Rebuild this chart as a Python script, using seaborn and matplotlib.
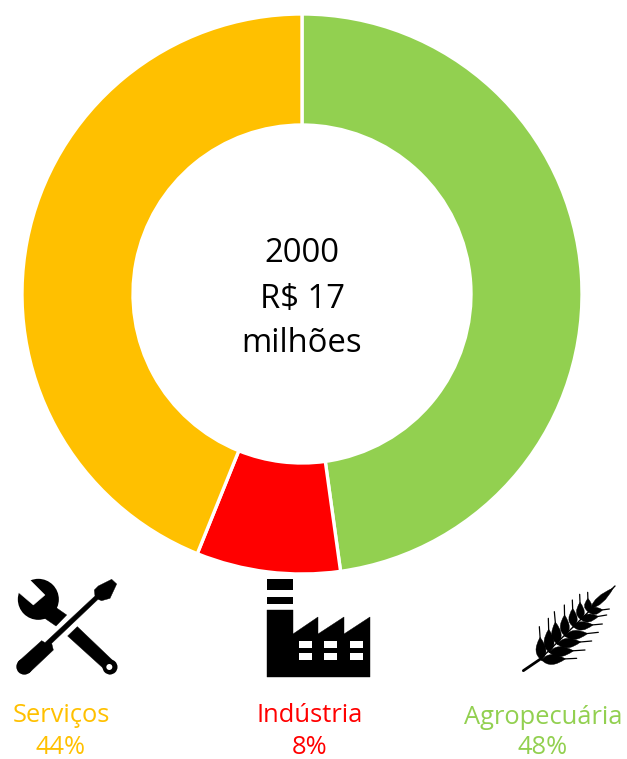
import matplotlib
matplotlib.use("Agg")
import matplotlib.pyplot as plt
import seaborn as sns
from matplotlib.patches import Polygon, Rectangle, Circle, PathPatch
from matplotlib.path import Path
from matplotlib.lines import Line2D

categories = ["Agropecuária", "Indústria", "Serviços"]
shares = [47.8, 8.3, 43.9]
share_labels = ["48%", "8%", "44%"]
center_lines = ["2000", "R$ 17", "milhões"]
hex_colors = ["#92D050", "#FF0000", "#FFC000"]

W, H = 627, 759
sns.set_theme(style="white")
plt.rcParams["font.family"] = ["Open Sans", "DejaVu Sans"]
palette = sns.color_palette(hex_colors)

fig = plt.figure(figsize=(W / 100, H / 100), dpi=100, facecolor="white")

# donut
CX, CY, R, r = 302, 294, 280, 169
ax = fig.add_axes([(CX - R) / W, 1 - (CY + R) / H, 2 * R / W, 2 * R / H])
ax.pie(shares, colors=palette, startangle=90, counterclock=False, radius=1,
       wedgeprops=dict(width=(R - r) / R, edgecolor="white", linewidth=2.4))
ax.set_xlim(-1, 1)
ax.set_ylim(-1, 1)
ax.set_axis_off()

# overlay in pixel coordinates
ov = fig.add_axes([0, 0, 1, 1])
ov.set_xlim(0, W)
ov.set_ylim(H, 0)
ov.set_axis_off()
ov.patch.set_alpha(0)

for line, y in zip(center_lines, [253, 299, 343]):
    ov.text(CX, y, line, ha="center", va="center", fontsize=23.6, color="black")

label_pos = {"Serviços": (61, 715, 748), "Indústria": (310, 715, 748), "Agropecuária": (543, 718, 748)}
for cat, val, col in zip(categories, share_labels, hex_colors):
    x, y1, y2 = label_pos[cat]
    ov.text(x, y1, cat, ha="center", va="center", fontsize=18.4, color=col)
    ov.text(x, y2, val, ha="center", va="center", fontsize=18.4, color=col)

# --- icons (decoration) ---
def z1(p):
    return (p[0] / 3, 560 + p[1] / 3)

def z2(p):
    return (320 + p[0] / 3, 560 + p[1] / 3)

def poly(pts, fn=z1, color="black", z=3):
    ov.add_patch(Polygon([fn(p) for p in pts], closed=True, fc=color, ec=color, lw=0.3, zorder=z))

# wrench head with notch, handle, lower arm
ov.add_patch(Circle(z1((115, 118)), 20.5, fc="black", ec="none", zorder=3))
poly([(53, 95), (100, 135), (135, 105), (92, 62), (70, 35), (30, 60)], color="white", z=3.5)
poly([(150, 130), (200, 165), (168, 198), (120, 165)])
poly([(232, 200), (345, 308), (330, 343), (203, 228)])
ov.add_patch(Circle(z1((330, 321)), 7.5, fc="black", ec="none", zorder=3))
ov.add_patch(Circle(z1((328, 321)), 3, fc="white", ec="none", zorder=4))
# screwdriver
poly([(335, 58), (350, 72), (330, 115), (305, 122), (294, 118), (155, 250), (160, 270), (88, 338),
      (55, 305), (125, 242), (135, 248), (285, 108), (283, 90), (295, 78)])
ov.add_patch(Circle(z1((73, 320)), 8, fc="black", ec="none", zorder=3))

# factory
ov.add_patch(Rectangle((267, 579), 26, 11, fc="black", ec="none", zorder=3))
ov.add_patch(Rectangle((267, 597), 26, 7, fc="black", ec="none", zorder=3))
poly([(267, 610), (293, 610), (293, 634), (318, 617), (318, 634), (344, 617), (344, 634), (370, 617),
      (370, 677), (267, 677)], fn=lambda p: p)
for wx in (299, 324, 350):
    for wy in (641, 653):
        ov.add_patch(Rectangle((wx, wy), 13, 7, fc="white", ec="none", zorder=4))

# wheat
def lens(p0, p1, w, bias=0.35):
    (x0, y0), (x1, y1) = z2(p0), z2(p1)
    dx, dy = x1 - x0, y1 - y0
    mx, my = x0 + dx * bias, y0 + dy * bias
    nx, ny = -dy, dx
    L = (nx * nx + ny * ny) ** 0.5
    nx, ny = nx / L * w, ny / L * w
    verts = [(x0, y0), (mx + nx, my + ny), (x1, y1), (mx - nx, my - ny), (x0, y0)]
    codes = [Path.MOVETO, Path.CURVE3, Path.CURVE3, Path.CURVE3, Path.CURVE3]
    ov.add_patch(PathPatch(Path(verts, codes), fc="black", ec="black", lw=0.3, zorder=3))

def stroke(p0, p1, lw=1.0):
    a, b = z2(p0), z2(p1)
    ov.add_line(Line2D([a[0], b[0]], [a[1], b[1]], color="black", lw=lw, solid_capstyle="round", zorder=3))

bases = [(665, 300), (688, 277), (712, 252), (735, 228), (760, 200), (782, 178), (805, 155)]
up_tips = [(658, 200), (685, 175), (703, 155), (733, 135), (757, 120), (779, 103), (803, 97)]
right_tips = [(770, 295), (795, 270), (815, 243), (835, 217), (847, 192), (860, 165), (868, 147)]
widths = [10, 10, 9.5, 9, 8.5, 8, 7.5]
stroke((610, 332), (660, 298), 2.0)
stroke((660, 298), (885, 78), 1.0)
for b, u, t, w in zip(bases, up_tips, right_tips, widths):
    stroke(b, u, 0.9)
    stroke(b, t, 0.9)
    scale = 0.68
    lens(b, (b[0] + (u[0] - b[0]) * scale, b[1] + (u[1] - b[1]) * scale), w)
    lens(b, (b[0] + (t[0] - b[0]) * scale, b[1] + (t[1] - b[1]) * scale), w)
lens((812, 145), (880, 84), 7)

fig.savefig("out.png", dpi=100, facecolor="white")
